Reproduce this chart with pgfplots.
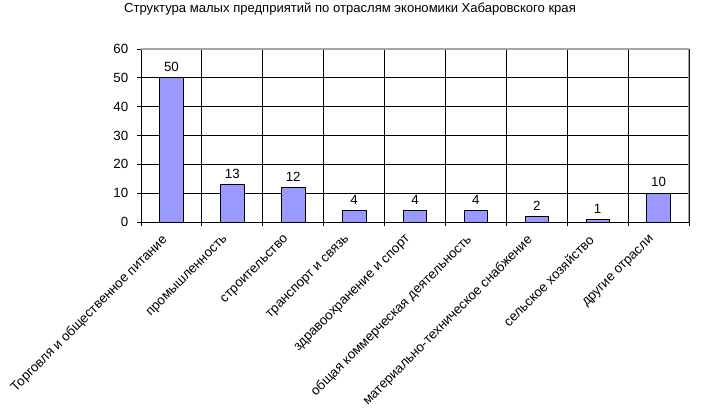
\documentclass[border=0pt]{standalone}
\usepackage{pgfplots}
\pgfplotsset{compat=1.18}
\usepackage{fontspec}
\setmainfont{Liberation Sans}
\definecolor{barblue}{HTML}{9999FF}
\begin{document}
\begin{tikzpicture}
\path[use as bounding box] (0,0) rectangle (540.75pt,312.75pt);
\node[font=\fontsize{9.8}{11}\selectfont, anchor=center] at (262.5pt,306pt)
  {Структура малых предприятий по отраслям экономики Хабаровского края};
\begin{axis}[
  at={(105.75pt,146.25pt)}, anchor=south west,
  scale only axis, width=411pt, height=129.75pt,
  xmin=0.5, xmax=9.5, ymin=0, ymax=60,
  ytick={0,10,...,60},
  xtick={1,...,9},
  xticklabels={Торговля и общественное питание, промышленность, строительство, транспорт и связь, здравоохранение и спорт, общая коммерческая деятельность, материально-техническое снабжение, сельское хозяйство, другие отрасли},
  minor xtick={0.5,1.5,...,9.5},
  xminorgrids=true, ymajorgrids=true, xmajorgrids=false,
  grid style={black, line width=0.6pt},
  minor grid style={black, line width=0.6pt},
  major x tick style={draw=none},
  tick align=outside, tick pos=left,
  major tick length=3pt, minor tick length=3pt,
  tick style={black, line width=0.6pt},
  axis line style={black, line width=0.6pt},
  /pgf/number format/assume math mode=true,
  tick label style={font=\fontsize{10}{12}\selectfont},
  x tick label style={xshift=-3.9pt, yshift=-8.2pt, rotate=45, anchor=east, inner sep=1pt},
  yticklabel style={xshift=-3pt},
  ybar, bar width=17.6pt,
  nodes near coords,
  every node near coord/.append style={font=\fontsize{10}{12}\selectfont, yshift=1pt},
]
\addplot[fill=barblue, draw=black, line width=0.5pt] coordinates {
 (1,50) (2,13) (3,12) (4,4) (5,4) (6,4) (7,2) (8,1) (9,10)};
\draw[gray!70, line width=0.8pt] (rel axis cs:0,1) -- (rel axis cs:1,1) -- (rel axis cs:1,0);
\end{axis}
\end{tikzpicture}
\end{document}
